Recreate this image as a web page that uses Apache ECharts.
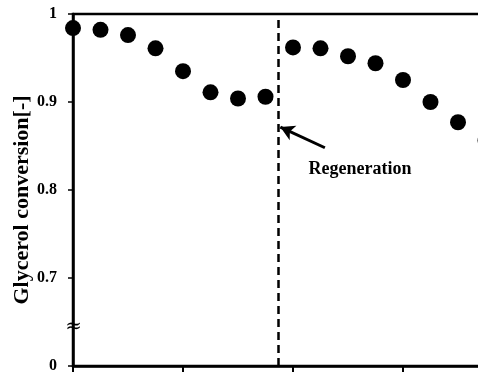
<!DOCTYPE html>
<html>
<head>
<meta charset="utf-8">
<script src="https://cdn.jsdelivr.net/npm/echarts@6/dist/echarts.min.js"></script>
<style>html,body{margin:0;padding:0;background:#fff;overflow:hidden;width:478px;height:374px}#c{width:530px;height:374px}</style>
</head>
<body>
<div id="c"></div>
<script>
// Data
const timeX = [0, 5, 10, 15, 20, 25, 30, 35, 40, 45, 50, 55, 60, 65, 70, 75];
const conversion = [0.984, 0.982, 0.976, 0.961, 0.935, 0.911, 0.904, 0.906,
                    0.962, 0.961, 0.952, 0.944, 0.925, 0.900, 0.877, 0.856];
const regenerationX = [37.3];
const arrowFrom = [45.8, 0.848];
const arrowTo = [37.7, 0.8715];
const regenerationLabel = ['Regeneration', 52.2, 0.823];
const breakMark = ['≈', 0.1, 0.644];
const yTickValues = [0.6, 0.7, 0.8, 0.9, 1.0];
const yTickLabels = ['0', '0.7', '0.8', '0.9', '1'];
const yAxisTitle = 'Glycerol conversion[-]';

const font = '"Liberation Serif", "Times New Roman", serif';
const chart = echarts.init(document.getElementById('c'), null, {renderer: 'canvas'});
chart.setOption({
  animation: false,
  backgroundColor: '#fff',
  grid: {left: 73, top: 14, right: 17, height: 355, show: true, borderColor: '#000', borderWidth: 2.5, backgroundColor: 'transparent'},
  xAxis: {
    type: 'value', min: 0, max: 80, interval: 20,
    axisLine: {show: true, onZero: false, lineStyle: {color: '#000', width: 2.5}},
    axisTick: {show: true, inside: false, length: 6, lineStyle: {color: '#000', width: 2}},
    axisLabel: {show: false},
    splitLine: {show: false}
  },
  yAxis: {
    type: 'value', min: 0.6, max: 1.0, interval: 0.1,
    axisLine: {show: true, lineStyle: {color: '#000', width: 2.5}},
    axisTick: {show: true, inside: false, length: 5, lineStyle: {color: '#000', width: 1.5}},
    axisLabel: {
      margin: 16, color: '#000', fontFamily: font, fontWeight: 'bold', fontSize: 16,
      formatter: function (v) {
        for (let i = 0; i < yTickValues.length; i++) {
          if (Math.abs(v - yTickValues[i]) < 1e-6) return yTickLabels[i];
        }
        return '';
      }
    },
    splitLine: {show: false}
  },
  graphic: [{
    type: 'text', x: 22, y: 200, rotation: Math.PI / 2,
    style: {text: yAxisTitle, fill: '#000', font: 'bold 22px ' + font, textAlign: 'center', textVerticalAlign: 'middle'}
  }],
  series: [{
    type: 'scatter',
    clip: false,
    symbol: 'circle',
    symbolSize: 16,
    itemStyle: {color: '#000', opacity: 1},
    data: timeX.map((x, i) => [x, conversion[i]]),
    markLine: {
      silent: true, animation: false,
      symbol: ['none', 'none'],
      label: {show: false},
      lineStyle: {color: '#000', type: [8, 5], width: 2.5},
      data: [{xAxis: regenerationX[0]}]
    },
    markPoint: {
      silent: true, animation: false,
      symbol: 'circle', symbolSize: 0,
      data: [
        {coord: [regenerationLabel[1], regenerationLabel[2]], label: {show: true, formatter: regenerationLabel[0], color: '#000', fontFamily: font, fontWeight: 'bold', fontSize: 18, position: 'inside'}},
        {coord: [breakMark[1], breakMark[2]], label: {show: true, formatter: breakMark[0], color: '#000', fontFamily: '"DejaVu Serif", serif', fontSize: 20, position: 'inside'}}
      ]
    }
  }, {
    type: 'line',
    data: [],
    markLine: {
      silent: true, animation: false,
      symbol: ['none', 'arrow'], symbolSize: [12, 14],
      label: {show: false},
      lineStyle: {color: '#000', type: 'solid', width: 3},
      data: [[{coord: arrowFrom}, {coord: arrowTo}]]
    }
  }]
});
</script>
</body>
</html>
